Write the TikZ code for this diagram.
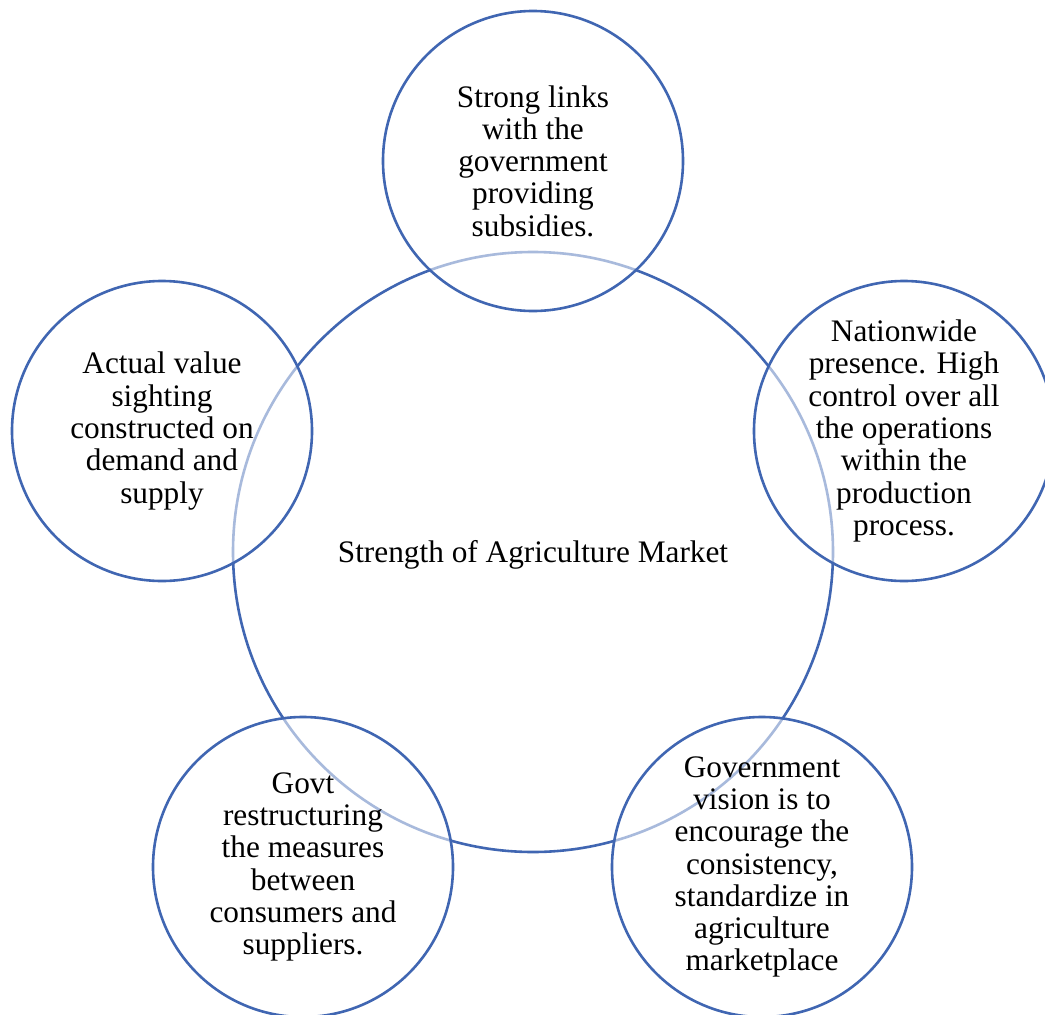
\documentclass[tikz,border=0pt]{standalone}
\usepackage{fontspec}
\setmainfont{Liberation Serif}
\definecolor{ringblue}{RGB}{64,102,178}
\begin{document}
\begin{tikzpicture}[x=1pt,y=1pt,
  ring/.style={circle,draw=ringblue,line width=2.6pt,inner sep=0pt,minimum size=300pt},
  outer/.style={ring,fill=white,fill opacity=0.55,text opacity=1,align=center,
    font=\fontsize{31.3}{32.3}\selectfont,text=black},
  label/.style={font=\fontsize{31.3}{32.3}\selectfont,text=black}]
\useasboundingbox (0,0) rectangle (1045,-1015);
\fill[white] (0,0) rectangle (1045,-1015);
\node[ring,minimum size=600pt] (hub) at (533,-552) {};
\node[outer] (top) at (533,-161) {Strong links\\with the\\government\\providing\\subsidies.};
\node[outer] (right) at (904,-431) {Nationwide\\presence. High\\control over all\\the operations\\within the\\production\\process.};
\node[outer] (left) at (162,-431) {Actual value\\sighting\\constructed on\\demand and\\supply};
\node[outer] (botleft) at (303,-867) {Govt\\restructuring\\the measures\\between\\consumers and\\suppliers.};
\node[outer] (botright) at (762,-867) {Government\\vision is to\\encourage the\\consistency,\\standardize in\\agriculture\\marketplace};
\node[label,anchor=base] (hubtext) at (533,-562) {Strength of Agriculture Market};
\end{tikzpicture}
\end{document}
